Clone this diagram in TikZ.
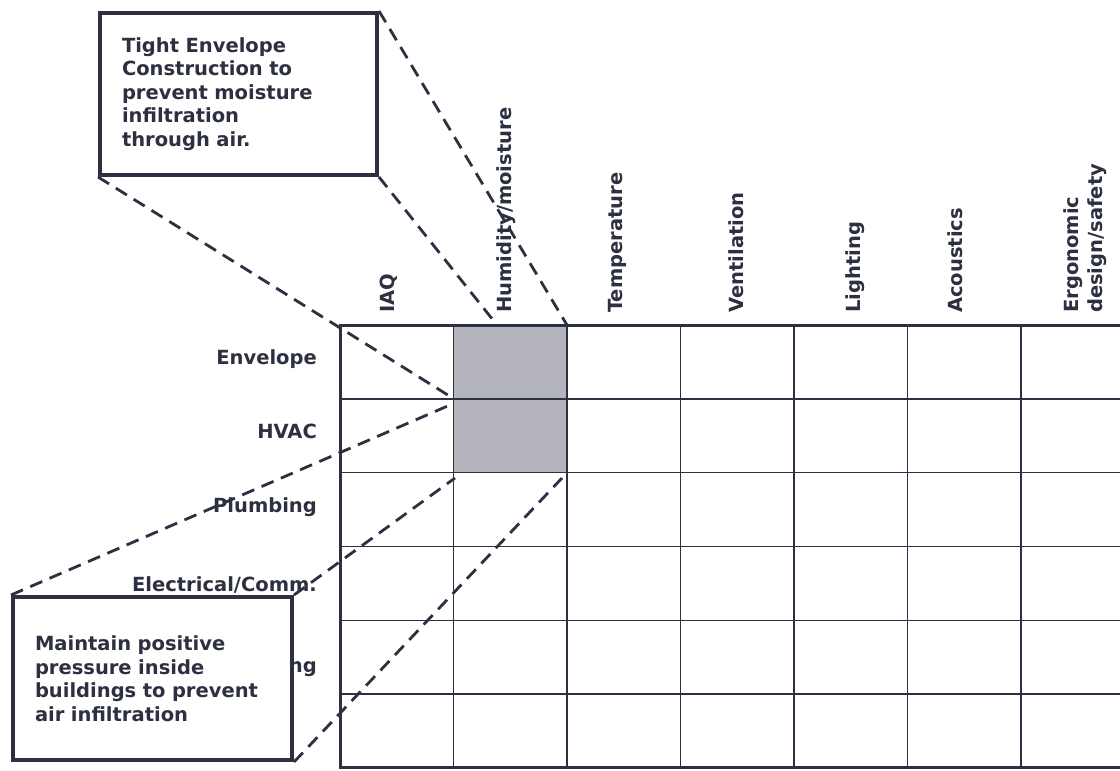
\documentclass[tikz,border=0pt]{standalone}
\usepackage{fontspec}
\setmainfont{DejaVu Sans}
\definecolor{ink}{HTML}{2D3040}
\definecolor{cellgray}{HTML}{B3B4BC}
\pgfdeclarelayer{notes}
\pgfsetlayers{main,notes}
\tikzset{
  lbl/.style={inner sep=0pt, text=ink, font=\bfseries\fontsize{19.5}{23.5}\selectfont},
  hdr/.style={lbl, rotate=90, anchor=west, align=left},
  note/.style={lbl, draw=ink, line width=4pt, fill=white, inner xsep=22pt,
    inner ysep=0pt, align=left},
  callout/.style={draw=ink, line width=2.8pt, dash pattern=on 13pt off 8pt},
  gridline/.style={draw=ink, line width=1.4pt}
}
\begin{document}
\begin{tikzpicture}[x=1pt,y=-1pt]
  \useasboundingbox (0,0) rectangle (1120,771);
  % matrix corners
  \foreach \i in {0,...,7}
    \foreach \j in {0,...,6}
      \coordinate (g-\i-\j) at ({340+113.5*\i},{325+73.8*\j});
  \fill[cellgray] (g-1-0) rectangle (g-2-2);
  \foreach \i in {1,...,7}
    \draw[gridline] (g-\i-0) -- (g-\i-6);
  \foreach \j in {1,...,5}
    \draw[gridline] (g-0-\j) -- (g-7-\j);
  \draw[ink,line width=3pt] (g-7-0) -- (g-0-0) -- (g-0-6) -- (g-7-6);
  % column and row headings
  \foreach \x/\t [count=\k] in
    {389/IAQ, 506/{Humidity/moisture}, 617/Temperature, 736/Ventilation,
     855/Lighting, 955/Acoustics, 1085/{Ergonomic\\design/safety}}
    \node[hdr] (col-\k) at (\x,313) {\t};
  \foreach \y/\t [count=\k] in
    {364/Envelope, 438/HVAC, 512/Plumbing, 591/{Electrical/Comm.}, 672/ng}
    \node[lbl,anchor=base east] (row-\k) at (317,\y) {\t};
  % call-out boxes
  \begin{pgfonlayer}{notes}
    \node[note,text width=233pt,minimum width=277pt,minimum height=162pt]
      (topnote) at (238.5,94)
      {Tight Envelope\\Construction to\\prevent moisture\\infiltration\\through air.};
    \node[note,text width=235pt,minimum width=279pt,minimum height=163pt]
      (botnote) at (152.5,678.5)
      {Maintain positive\\pressure inside\\buildings to prevent\\air infiltration};
  \end{pgfonlayer}
  \coordinate (t1) at (451,397);
  \coordinate (t2) at (497,325);
  \coordinate (b1) at (450,405);
  \coordinate (b2) at (455,478);
  \coordinate (b3) at (562,478);
  \draw[callout] (topnote.north east) -- (g-2-0);
  \draw[callout] (topnote.south east) -- (t2);
  \draw[callout] (topnote.south west) -- (t1);
  \draw[callout] (botnote.north west) -- (b1);
  \draw[callout] (botnote.north east) -- (b2);
  \draw[callout] (botnote.south east) -- (b3);
\end{tikzpicture}
\end{document}
